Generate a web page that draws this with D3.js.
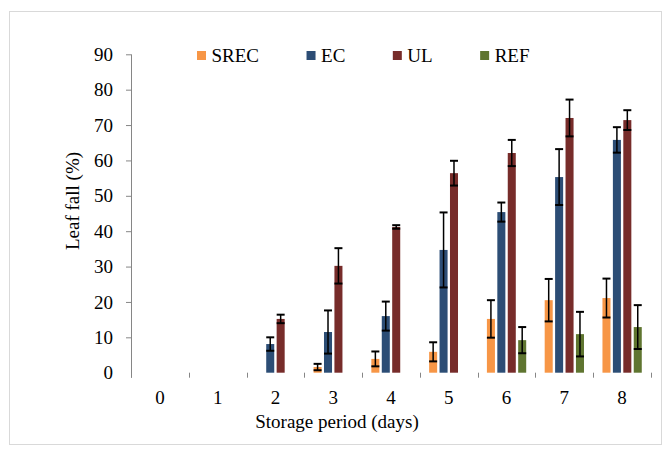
<!DOCTYPE html>
<html>
<head>
<meta charset="utf-8">
<script src="https://cdn.jsdelivr.net/npm/d3@7/dist/d3.min.js"></script>
<style>
  body { margin: 0; background: #fff; }
  svg text { font-family: "Times New Roman", "Liberation Serif", "DejaVu Serif", serif !important; fill: #000; }
</style>
</head>
<body>
<div id="viz"></div>
<script>
// data
var days = ['0', '1', '2', '3', '4', '5', '6', '7', '8'];
var series = ['SREC', 'EC', 'UL', 'REF'];
var srec   = [0, 0, 0, 1.6, 3.9, 5.9, 15.2, 20.5, 21.1];
var srecEr = [0, 0, 0, 0.9, 2.1, 2.7, 5.3, 6.0, 5.5];
var ec     = [0, 0, 8.1, 11.5, 16.0, 34.7, 45.4, 55.3, 65.8];
var ecEr   = [0, 0, 1.9, 6.1, 4.1, 10.6, 2.7, 7.9, 3.6];
var ul     = [0, 0, 15.2, 30.2, 41.2, 56.4, 62.1, 72.0, 71.4];
var ulEr   = [0, 0, 1.2, 5.0, 0.5, 3.5, 3.7, 5.2, 2.8];
var ref    = [0, 0, 0, 0, 0, 0, 9.2, 10.9, 12.9];
var refEr  = [0, 0, 0, 0, 0, 0, 3.7, 6.3, 6.2];
var yTicks = [0, 10, 20, 30, 40, 50, 60, 70, 80, 90];
var colors = ['#f79646', '#2c4d75', '#772c2a', '#5f7530'];

var width = 672, height = 451;
var serif = '"Times New Roman", "Liberation Serif", serif';

var vals = { SREC: srec, EC: ec, UL: ul, REF: ref };
var errs = { SREC: srecEr, EC: ecEr, UL: ulEr, REF: refEr };

var data = [];
days.forEach(function(d, i) {
    series.forEach(function(s) {
        data.push({ day: d, s: s, v: vals[s][i], e: errs[s][i] });
    });
});

var svg = d3.select('#viz').append('svg')
    .attr('width', width)
    .attr('height', height)
    .attr('font-family', serif);

// outer frame
svg.append('rect')
    .attr('x', 9.5).attr('y', 11.5)
    .attr('width', 652).attr('height', 433)
    .attr('fill', 'none')
    .attr('stroke', '#d9d9d9');

var x0 = d3.scaleBand().domain(days).range([131, 651]).padding(0);
var pad = (x0.bandwidth() - 39.3) / 2;
var x1 = d3.scaleBand().domain(series)
    .range([pad, x0.bandwidth() - pad])
    .paddingInner(0.23).paddingOuter(0);
var y = d3.scaleLinear().domain([0, 90]).range([372.7, 54.3]);
var color = d3.scaleOrdinal().domain(series).range(colors);

// y axis
var yAxis = svg.append('g')
    .attr('transform', 'translate(131,0)')
    .call(d3.axisLeft(y).tickValues(yTicks).tickSize(5).tickSizeOuter(0).tickPadding(13));
yAxis.attr('font-family', serif);
yAxis.select('.domain').attr('d', 'M0.5,' + y(90) + 'V' + (y(0) + 5)).attr('stroke', '#868686');
yAxis.selectAll('.tick line').attr('stroke', '#868686');
yAxis.selectAll('text').style('font-size', '19px').style('font-family', serif).attr('fill', '#000');
yAxis.selectAll('.tick line').filter(function(d) { return d === 0; }).remove();

// x axis: ticks at category edges, no base line
var edges = days.map(function(d) { return x0(d); }).concat([x0.range()[1]]);
svg.append('g').selectAll('line')
    .data(edges)
    .enter().append('line')
    .attr('x1', function(d) { return Math.round(d) + 0.5; })
    .attr('x2', function(d) { return Math.round(d) + 0.5; })
    .attr('y1', y(0))
    .attr('y2', y(0) + 5)
    .attr('stroke', '#868686');

var xAxis = svg.append('g')
    .attr('transform', 'translate(0,' + y(0) + ')')
    .call(d3.axisBottom(x0).tickSize(0).tickPadding(18));
xAxis.attr('font-family', serif);
xAxis.select('.domain').remove();
xAxis.selectAll('text').style('font-size', '19px').style('font-family', serif).attr('fill', '#000');

// bars
var groups = svg.append('g').selectAll('g')
    .data(data)
    .enter().append('g')
    .attr('transform', function(d) { return 'translate(' + x0(d.day) + ',0)'; });

groups.append('rect')
    .attr('x', function(d) { return x1(d.s); })
    .attr('y', function(d) { return y(d.v); })
    .attr('width', x1.bandwidth())
    .attr('height', function(d) { return y(0) - y(d.v); })
    .attr('fill', function(d) { return color(d.s); });

// error bars
var eb = groups.filter(function(d) { return d.v > 0; }).append('g')
    .attr('stroke', '#000');
eb.append('line')
    .attr('x1', function(d) { return x1(d.s) + x1.bandwidth() / 2; })
    .attr('x2', function(d) { return x1(d.s) + x1.bandwidth() / 2; })
    .attr('y1', function(d) { return y(d.v + d.e); })
    .attr('y2', function(d) { return y(Math.max(0, d.v - d.e)); })
    .attr('stroke-width', 1.5);
eb.selectAll('.cap')
    .data(function(d) { return [d.v + d.e, Math.max(0, d.v - d.e)].map(function(v) { return { s: d.s, v: v }; }); })
    .enter().append('line')
    .attr('class', 'cap')
    .attr('x1', function(d) { return x1(d.s) + x1.bandwidth() / 2 - 4; })
    .attr('x2', function(d) { return x1(d.s) + x1.bandwidth() / 2 + 4; })
    .attr('y1', function(d) { return y(d.v); })
    .attr('y2', function(d) { return y(d.v); })
    .attr('stroke-width', 2);

// axis titles
svg.append('text')
    .attr('x', 337).attr('y', 428)
    .attr('text-anchor', 'middle')
    .style('font-size', '19px')
    .text('Storage period (days)');

svg.append('text')
    .attr('transform', 'translate(79,201) rotate(-90)')
    .attr('text-anchor', 'middle')
    .style('font-size', '19px')
    .text('Leaf fall (%)');

// legend
var lx = 197;
series.forEach(function(s, i) {
    svg.append('rect')
        .attr('x', lx).attr('y', 51)
        .attr('width', 9).attr('height', 9)
        .attr('fill', colors[i]);
    var t = svg.append('text')
        .attr('x', lx + 14.5).attr('y', 62)
        .style('font-size', '19px')
        .text(s);
    lx = lx + 14.5 + t.node().getComputedTextLength() + 47.5;
});
</script>
</body>
</html>
